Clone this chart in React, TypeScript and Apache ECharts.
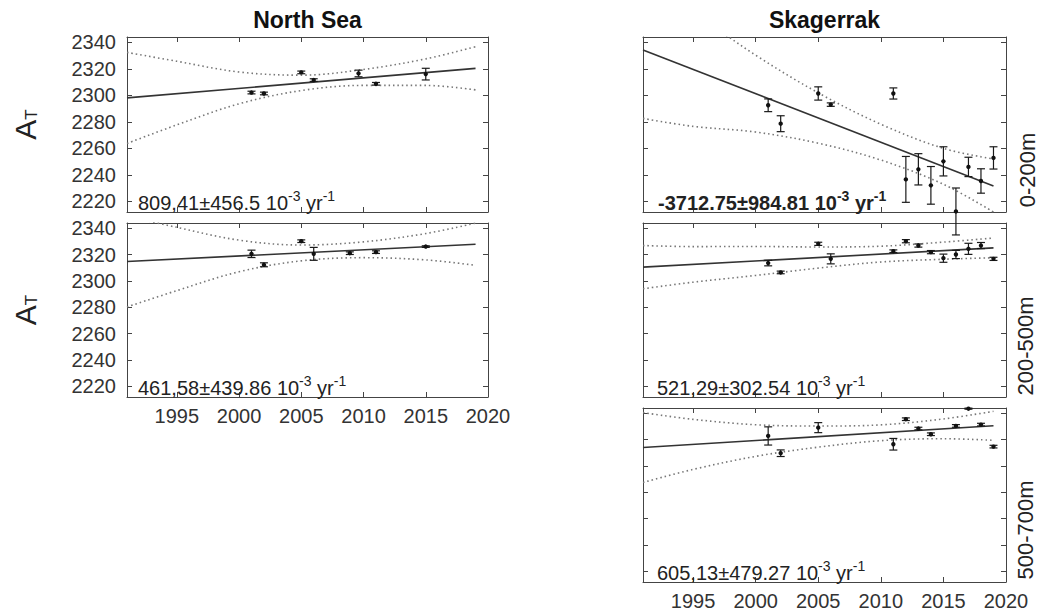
import { useEffect, useRef } from "react";
import * as echarts from "echarts";

// shared axes
const fitYears = [1991, 2019];
const bandYears = [1991, 1995, 2000, 2005, 2010, 2015, 2019];
const yearLabels = [1995, 2000, 2005, 2010, 2015, 2020];
const yearTickMarks = [1995, 2000, 2005, 2010, 2015];
const atTicks = [2220, 2240, 2260, 2280, 2300, 2320, 2340];

// North Sea, 0-200 m
const nsSurfYears = [2001, 2002, 2005, 2006, 2009.6, 2011, 2015];
const nsSurfValues = [2302.1, 2301.4, 2317.3, 2311.5, 2316.5, 2308.7, 2316.0];
const nsSurfErrors = [1, 1, 1, 1, 2.5, 1, 4.4];
const nsSurfFit = [2298.1, 2320.3];
const nsSurfUpper = [2332.4, 2325.7, 2317.6, 2315.2, 2319.5, 2327.5, 2336.7];
const nsSurfLower = [2263.7, 2277.7, 2293.6, 2303.6, 2307.5, 2307.5, 2304.1];

// North Sea, 200-500 m
const nsMidYears = [2001, 2002, 2005, 2006, 2008.9, 2011, 2015];
const nsMidValues = [2320.6, 2312.3, 2330.2, 2320.6, 2321.1, 2321.9, 2326.1];
const nsMidErrors = [2.8, 1.5, 1, 4.9, 1, 1, 0.6];
const nsMidFit = [2314.8, 2327.9];
const nsMidUpper = [2349.3, 2340.7, 2331.0, 2327.3, 2329.7, 2336.0, 2343.9];
const nsMidLower = [2280.3, 2292.7, 2307.0, 2315.3, 2317.7, 2316.0, 2311.9];

// Skagerrak, 0-200 m
const skSurfYears = [2001, 2002, 2005, 2006, 2011, 2012, 2013, 2014, 2015, 2016, 2017, 2018, 2019];
const skSurfValues = [2292.5, 2278.6, 2301.4, 2293.0, 2301.4, 2236.6, 2244.2, 2232.1, 2250.2, 2212.4, 2246.0, 2235.4, 2252.8];
const skSurfErrors = [4.8, 6, 5, 1.3, 4.2, 17.3, 11.8, 14.2, 11, 17.7, 7.3, 9.2, 8.4];
const skSurfFit = [2334.2, 2231.7];
const skSurfUpper = [2385.8, 2362.6, 2330.3, 2301.9, 2278.2, 2260.0, 2252.0];
const skSurfLower = [2282.6, 2276.6, 2272.3, 2263.9, 2251.2, 2232.9, 2212.0];

// Skagerrak, 200-500 m
const skMidYears = [2001, 2002, 2005, 2006, 2011, 2012, 2013, 2014, 2015, 2016, 2017, 2018, 2019];
const skMidValues = [2313.6, 2306.5, 2328.2, 2316.8, 2322.6, 2330.2, 2326.9, 2321.9, 2317.3, 2320.1, 2324.4, 2326.9, 2316.8];
const skMidErrors = [2.1, 1, 1.2, 3.8, 1, 1.2, 1.2, 1.2, 3.1, 3.1, 4.2, 2.3, 1.2];
const skMidFit = [2310.5, 2325.1];
const skMidUpper = [2326.9, 2326.1, 2326.2, 2325.8, 2326.4, 2329.5, 2332.6];
const skMidLower = [2294.1, 2299.1, 2304.2, 2309.8, 2314.4, 2316.5, 2317.6];

// Skagerrak, 500-700 m
const skDeepYears = [2001, 2002, 2005, 2011, 2012, 2013, 2014, 2016, 2017, 2018, 2019];
const skDeepValues = [2322.8, 2309.7, 2329.1, 2316.5, 2335.5, 2328.4, 2324.1, 2330.4, 2343.5, 2331.4, 2314.7];
const skDeepErrors = [6.9, 2.5, 3.8, 4.4, 1, 1, 1, 1, 0.4, 1, 1];
const skDeepFit = [2314.0, 2330.5];
const skDeepUpper = [2340.5, 2335.4, 2331.3, 2330.3, 2331.2, 2335.7, 2341.5];
const skDeepLower = [2287.5, 2297.4, 2307.3, 2314.3, 2319.2, 2320.7, 2319.5];

const FONT = "Liberation Sans, Arial, Helvetica, sans-serif";
const INK = "#333";

const panels = [
  { box: [127, 37, 361, 175], yLabels: true, xLabels: false, years: nsSurfYears, values: nsSurfValues, errors: nsSurfErrors, fit: nsSurfFit, upper: nsSurfUpper, lower: nsSurfLower },
  { box: [127, 223, 361, 174], yLabels: true, xLabels: true, years: nsMidYears, values: nsMidValues, errors: nsMidErrors, fit: nsMidFit, upper: nsMidUpper, lower: nsMidLower },
  { box: [643, 37, 363, 175], yLabels: false, xLabels: false, years: skSurfYears, values: skSurfValues, errors: skSurfErrors, fit: skSurfFit, upper: skSurfUpper, lower: skSurfLower },
  { box: [643, 223, 363, 174], yLabels: false, xLabels: false, years: skMidYears, values: skMidValues, errors: skMidErrors, fit: skMidFit, upper: skMidUpper, lower: skMidLower },
  { box: [643, 408, 363, 174], yLabels: false, xLabels: true, years: skDeepYears, values: skDeepValues, errors: skDeepErrors, fit: skDeepFit, upper: skDeepUpper, lower: skDeepLower },
];

const trends = [
  { text: "809,41±456.5 10", bold: false, x: 138, y: 217 },
  { text: "461,58±439.86 10", bold: false, x: 138, y: 402 },
  { text: "-3712.75±984.81 10", bold: true, x: 658, y: 217 },
  { text: "521,29±302.54 10", bold: false, x: 657, y: 402 },
  { text: "605,13±479.27 10", bold: false, x: 657, y: 587 },
];

const depthLabels = [
  { text: "0-200m", x: 1027, y: 170 },
  { text: "200-500m", x: 1025, y: 346 },
  { text: "500-700m", x: 1025, y: 530 },
];

const axisLineStyle = { color: "#444", width: 1 };
const plain = (v: number) => String(v);

function xAxesFor(gridIndex: number, showLabels: boolean) {
  const base = {
    type: "value" as const,
    gridIndex,
    min: 1991,
    max: 2020,
    splitLine: { show: false },
    axisLine: { show: true, onZero: false, lineStyle: axisLineStyle },
    axisTick: { show: true, inside: true, length: 5, customValues: yearTickMarks, lineStyle: axisLineStyle },
  };
  return [
    {
      ...base,
      position: "bottom",
      axisLabel: { show: showLabels, customValues: yearLabels, formatter: plain, fontFamily: FONT, fontSize: 20, color: INK, margin: 9 },
    },
    { ...base, position: "top", axisLabel: { show: false } },
  ];
}

function yAxesFor(gridIndex: number, showLabels: boolean) {
  const base = {
    type: "value" as const,
    gridIndex,
    min: 2212,
    max: 2344,
    splitLine: { show: false },
    axisLine: { show: true, onZero: false, lineStyle: axisLineStyle },
    axisTick: { show: true, inside: true, length: 5, customValues: atTicks, lineStyle: axisLineStyle },
  };
  const name = showLabels
    ? {
        name: "{a|A}{t|T}",
        nameLocation: "middle",
        nameRotate: 90,
        nameGap: 87,
        nameTextStyle: {
          rich: {
            a: { fontFamily: FONT, fontSize: 30, color: "#222", lineHeight: 30 },
            t: { fontFamily: FONT, fontSize: 17, color: "#222", lineHeight: 6, verticalAlign: "bottom" },
          },
        },
      }
    : {};
  return [
    {
      ...base,
      ...name,
      position: "left",
      axisLabel: { show: showLabels, customValues: atTicks, formatter: plain, fontFamily: FONT, fontSize: 20, color: INK, margin: 11 },
    },
    { ...base, position: "right", axisLabel: { show: false } },
  ];
}

function errorBars(gridIndex: number, years: number[], values: number[], errors: number[]) {
  return {
    type: "custom",
    xAxisIndex: gridIndex * 2,
    yAxisIndex: gridIndex * 2,
    clip: false,
    z: 5,
    data: years.map((yr, i) => [yr, values[i], errors[i]]),
    renderItem: (_params: any, api: any) => {
      const x = api.value(0);
      const v = api.value(1);
      const e = api.value(2);
      const c = api.coord([x, v]);
      const hi = api.coord([x, v + e]);
      const lo = api.coord([x, v - e]);
      const s = { stroke: "#1a1a1a", lineWidth: 1.2 };
      const cap = 4;
      return {
        type: "group",
        children: [
          { type: "line", shape: { x1: c[0], y1: hi[1], x2: c[0], y2: lo[1] }, style: s },
          { type: "line", shape: { x1: c[0] - cap, y1: hi[1], x2: c[0] + cap, y2: hi[1] }, style: s },
          { type: "line", shape: { x1: c[0] - cap, y1: lo[1], x2: c[0] + cap, y2: lo[1] }, style: s },
          { type: "circle", shape: { cx: c[0], cy: c[1], r: 2.2 }, style: { fill: "#111" } },
        ],
      };
    },
  };
}

function lineSeries(gridIndex: number, xs: number[], ys: number[], dotted: boolean) {
  return {
    type: "line",
    xAxisIndex: gridIndex * 2,
    yAxisIndex: gridIndex * 2,
    data: xs.map((x, i) => [x, ys[i]]),
    symbol: "none",
    smooth: dotted ? 0.35 : false,
    z: dotted ? 2 : 3,
    lineStyle: dotted
      ? { color: "#777", width: 1.6, type: [1.5, 3] }
      : { color: "#333", width: 1.6 },
  };
}

export default function App() {
  const chartRef = useRef<HTMLDivElement>(null);

  useEffect(() => {
    if (!chartRef.current) return;
    const chart = echarts.init(chartRef.current, null, { renderer: "svg" });

    const grid = panels.map((p) => ({
      left: p.box[0],
      top: p.box[1],
      width: p.box[2],
      height: p.box[3],
      containLabel: false,
    }));
    const xAxis = panels.flatMap((p, i) => xAxesFor(i, p.xLabels));
    const yAxis = panels.flatMap((p, i) => yAxesFor(i, p.yLabels));
    const series = panels.flatMap((p, i) => [
      lineSeries(i, bandYears, p.upper, true),
      lineSeries(i, bandYears, p.lower, true),
      lineSeries(i, fitYears, p.fit, false),
      errorBars(i, p.years, p.values, p.errors),
    ]);

    const graphic: any[] = [
      {
        type: "text",
        x: 307.5,
        y: 20,
        style: { text: "North Sea", fontFamily: FONT, fontSize: 23, fontWeight: "bold", fill: "#111", align: "center", verticalAlign: "middle" },
      },
      {
        type: "text",
        x: 824.5,
        y: 20,
        style: { text: "Skagerrak", fontFamily: FONT, fontSize: 23, fontWeight: "bold", fill: "#111", align: "center", verticalAlign: "middle" },
      },
    ];

    depthLabels.forEach((d) => {
      graphic.push({
        type: "text",
        x: d.x,
        y: d.y,
        rotation: Math.PI / 2,
        style: { text: d.text, fontFamily: FONT, fontSize: 22, fill: "#222", align: "center", verticalAlign: "middle" },
      });
    });

    trends.forEach((t) => {
      const weight = t.bold ? "bold" : "normal";
      graphic.push({
        type: "text",
        x: t.x,
        y: t.y,
        z: 10,
        style: {
          text: `{n|${t.text}}{s|-3}{n| yr}{s|-1}`,
          align: "left",
          verticalAlign: "bottom",
          rich: {
            n: { fontFamily: FONT, fontSize: 20, fontWeight: weight, fill: "#222", lineHeight: 28 },
            s: { fontFamily: FONT, fontSize: 14, fontWeight: weight, fill: "#222", lineHeight: 12, verticalAlign: "top" },
          },
        },
      });
    });

    chart.setOption({
      animation: false,
      grid,
      xAxis,
      yAxis,
      series,
      graphic,
    });

    return () => {
      chart.dispose();
    };
  }, []);

  return (
    <div
      ref={chartRef}
      style={{ position: "absolute", left: 0, top: 0, width: 1038, height: 615, background: "#fff" }}
    />
  );
}
